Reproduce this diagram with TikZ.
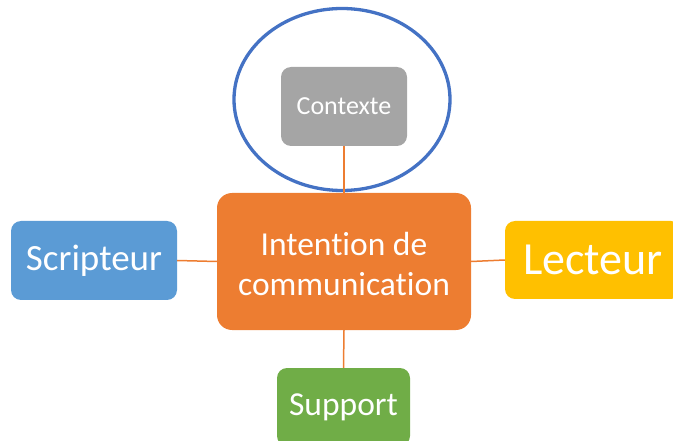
\documentclass[tikz,border=0pt]{standalone}
\usepackage{fontspec}
\setmainfont{Carlito}[Ligatures={NoCommon}]
\usetikzlibrary{shapes.geometric}
\definecolor{cOrange}{HTML}{ED7D31}
\definecolor{cGray}{HTML}{A5A5A5}
\definecolor{cBlue}{HTML}{5B9BD5}
\definecolor{cYellow}{HTML}{FFC000}
\definecolor{cGreen}{HTML}{70AD47}
\definecolor{cRing}{HTML}{4472C4}
\tikzset{
  box/.style={rectangle, rounded corners=10pt, inner sep=0pt, text=white, align=center},
  link/.style={draw=cOrange, line width=1.5pt},
}
\begin{document}
\begin{tikzpicture}[x=1pt,y=-1pt]
\useasboundingbox (0,0) rectangle (673,441);
\clip (0,0) rectangle (673,441);
\node[box, fill=cOrange, rounded corners=15pt, minimum width=254pt, minimum height=137pt] (center) at (344,261.5) {};
\node[text=white, align=center, inner sep=0pt, font=\fontsize{33.5}{40}\selectfont] (centertext) at (344,264) {Intention de\\communication};
\node[box, fill=cGray, minimum width=126pt, minimum height=79pt,
      font=\fontsize{26}{30}\selectfont] (ctx) at (344,106.5) {Contexte};
\node[box, fill=cBlue, minimum width=166pt, minimum height=79pt,
      font=\fontsize{37}{44}\selectfont] (scr) at (94,260.5) {Scripteur};
\node[box, fill=cYellow, minimum width=176pt, minimum height=78pt,
      font=\fontsize{46}{54}\selectfont] (lec) at (593,260) {Lecteur};
\node[box, fill=cGreen, minimum width=133pt, minimum height=78pt,
      font=\fontsize{33.5}{40}\selectfont] (sup) at (343.5,407) {Support};
\node[ellipse, draw=cRing, line width=3.3pt, minimum width=216pt, minimum height=182pt, inner sep=0pt] (ring) at (342,99.5) {};
\draw[link] (ctx.south) -- (center.north);
\draw[link] (scr.east) -- (center.west);
\draw[link] (center.east) -- (lec.west);
\draw[link] (center.south) -- (sup.north);
\end{tikzpicture}
\end{document}
